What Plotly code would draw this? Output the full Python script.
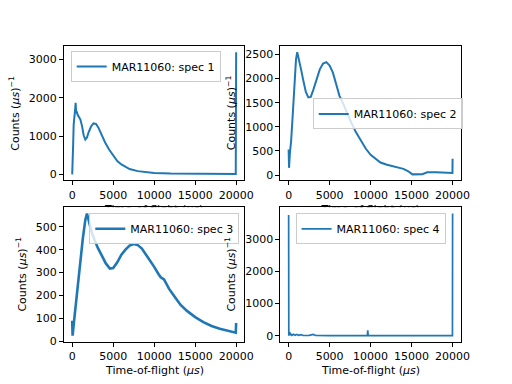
import plotly.graph_objects as go

W, H = 512, 384
COLOR = "#1f77b4"
FONT = "DejaVu Sans"

# ---- data ----
tof1 = [0, 60, 120, 180, 240, 300, 360, 420, 480, 560, 650, 800, 1000, 1200, 1400,
        1600, 1800, 2000, 2300, 2600, 2900, 3200, 3600, 4000, 4500, 5000, 5500, 6000,
        6500, 7000, 8000, 9000, 10000, 12000, 14000, 16000, 18000, 19950, 20000]
counts1 = [0, 250, 800, 1300, 1550, 1620, 1700, 1870, 1600, 1640, 1560, 1500, 1430, 1260, 1020,
           910, 960, 1100, 1250, 1330, 1320, 1220, 1020, 840, 650, 490, 350, 260,
           190, 140, 85, 55, 35, 22, 15, 12, 10, 8, 3190]

tof2 = [0, 50, 150, 300, 500, 700, 900, 1050, 1200, 1500, 1800, 2100, 2400, 2700, 3000,
        3400, 3800, 4200, 4600, 5000, 5400, 5800, 6200, 6600, 7000, 7600, 8200, 8800,
        9400, 10000, 10600, 11200, 12000, 13000, 14000, 14600, 15100, 16300, 16900,
        18000, 19000, 19980, 20000]
counts2 = [530, 150, 450, 700, 1250, 1900, 2400, 2545, 2450, 2200, 1950, 1720, 1610, 1620, 1760,
           2000, 2190, 2310, 2340, 2270, 2120, 1880, 1640, 1500, 1330, 1100, 890, 710,
           550, 420, 340, 260, 215, 170, 130, 80, 15, 20, 60,
           60, 50, 45, 340]

tof3 = [0, 50, 200, 400, 700, 1000, 1300, 1600, 1800, 2000, 2300, 2700, 3100, 3600, 4100,
        4600, 5000, 5500, 6000, 6500, 7000, 7500, 8000, 8500, 9000, 9500, 10000, 10500,
        10800, 11200, 11800, 12500, 13200, 14000, 15000, 16000, 17000, 18000, 19000,
        19950, 20000]
counts3 = [90, 25, 80, 150, 240, 350, 450, 530, 558, 530, 485, 445, 410, 375, 340,
           318, 320, 345, 378, 400, 418, 425, 420, 405, 380, 355, 325, 295,
           280, 270, 230, 195, 160, 133, 106, 84, 67, 55, 46,
           38, 80]

tof4 = [0, 20, 40, 60, 100, 150, 250, 400, 600, 800, 1000, 1200, 1500, 1800, 2500,
        3000, 3300, 5000, 9600, 9650, 9700, 15000, 19980, 20000]
counts4 = [3750, 5, 350, 10, 120, 20, 60, 15, 50, 20, 45, 15, 35, 10, 15,
           45, 10, 8, 8, 170, 8, 5, 5, 3800]

labels = ["MAR11060: spec 1", "MAR11060: spec 2", "MAR11060: spec 3", "MAR11060: spec 4"]
ytick_steps = [1000, 500, 100, 1000]
xtick_step = 5000
x_title = "Time-of-flight (<i>μs</i>)"
y_title = "Counts (<i>μs</i>)<sup>−1</sup>"

series = [(tof1, counts1), (tof2, counts2), (tof3, counts3), (tof4, counts4)]
widths = [2.0, 2.0, 2.6, 1.7]

# matplotlib default subplot geometry (2x2)
xdom = [[0.125, 0.47727], [0.54773, 0.9], [0.125, 0.47727], [0.54773, 0.9]]
ydom = [[0.53, 0.88], [0.53, 0.88], [0.11, 0.46], [0.11, 0.46]]

def padded(v):
    lo, hi = min(v), max(v)
    s = hi - lo
    return [lo - 0.05 * s, hi + 0.05 * s]

fig = go.Figure()
legend_names = ["legend", "legend2", "legend3", "legend4"]
for i, (xs, ys) in enumerate(series):
    k = "" if i == 0 else str(i + 1)
    fig.add_trace(go.Scatter(
        x=xs, y=ys, mode="lines", name=labels[i],
        line=dict(color=COLOR, width=widths[i]),
        xaxis="x" + k, yaxis="y" + k, legend=legend_names[i],
        showlegend=True,
    ))

axis_common = dict(
    showgrid=False, zeroline=False, showline=True, mirror=True,
    linecolor="black", linewidth=1, ticks="outside", ticklen=4, tickwidth=1,
    tickcolor="black", tickfont=dict(family=FONT, size=11, color="black"),
    automargin=False, tickformat="d",
)

layout = dict(
    width=W, height=H, margin=dict(l=0, r=0, t=0, b=0),
    paper_bgcolor="white", plot_bgcolor="white",
    font=dict(family=FONT, size=11, color="black"),
)

for i, (xs, ys) in enumerate(series):
    k = "" if i == 0 else str(i + 1)
    layout["xaxis" + k] = dict(axis_common, domain=xdom[i], range=padded(xs),
                               dtick=xtick_step, tick0=0, anchor="y" + k)
    layout["yaxis" + k] = dict(axis_common, domain=ydom[i], range=padded(ys),
                               dtick=ytick_steps[i], tick0=0, anchor="x" + k)

# hidden strip between the rows: holds the top-row x titles, clipped like the reference
layout["xaxis5"] = dict(domain=[0, 1], range=[0, W], visible=False, anchor="y5")
layout["yaxis5"] = dict(domain=[0.46, 0.53], range=[H * (1 - 0.46), H * (1 - 0.53)],
                        visible=False, anchor="x5")
fig.add_trace(go.Scatter(
    x=[(xdom[0][0] + xdom[0][1]) / 2 * W, (xdom[1][0] + xdom[1][1]) / 2 * W],
    y=[210, 210], mode="text", text=[x_title, x_title],
    textposition="middle center", cliponaxis=True,
    textfont=dict(family=FONT, size=11, color="black"),
    xaxis="x5", yaxis="y5", showlegend=False, hoverinfo="skip",
))

leg_common = dict(font=dict(family=FONT, size=11, color="black"),
                  bgcolor="rgba(255,255,255,0.8)", bordercolor="#cccccc",
                  borderwidth=1, itemwidth=30)
layout["legend"] = dict(leg_common, x=70.7 / W, y=1 - 51 / H, xanchor="left", yanchor="top")
layout["legend2"] = dict(leg_common, x=312.7 / W, y=1 - 113.9 / H, xanchor="left", yanchor="middle")
layout["legend3"] = dict(leg_common, x=239.3 / W, y=1 - 213.3 / H, xanchor="right", yanchor="top")
layout["legend4"] = dict(leg_common, x=370.6 / W, y=1 - 213.3 / H, xanchor="center", yanchor="top")

ann = []
ytitle_px = [14.5, 231, 22, 231]
for i in range(4):
    yc = 1 - (ydom[i][0] + ydom[i][1]) / 2
    ann.append(dict(text=y_title, x=ytitle_px[i] / W, y=1 - yc, xref="paper", yref="paper",
                    textangle=-90, showarrow=False, xanchor="center", yanchor="middle",
                    font=dict(family=FONT, size=11, color="black")))
for i in (2, 3):
    ann.append(dict(text=x_title, x=(xdom[i][0] + xdom[i][1]) / 2, y=1 - 370 / H,
                    xref="paper", yref="paper", showarrow=False,
                    xanchor="center", yanchor="middle",
                    font=dict(family=FONT, size=11, color="black")))
layout["annotations"] = ann

fig.update_layout(**layout)
fig.write_html("out.html", config={"displayModeBar": False},
               post_script="document.body.style.margin='0';document.body.style.overflow='hidden';")
